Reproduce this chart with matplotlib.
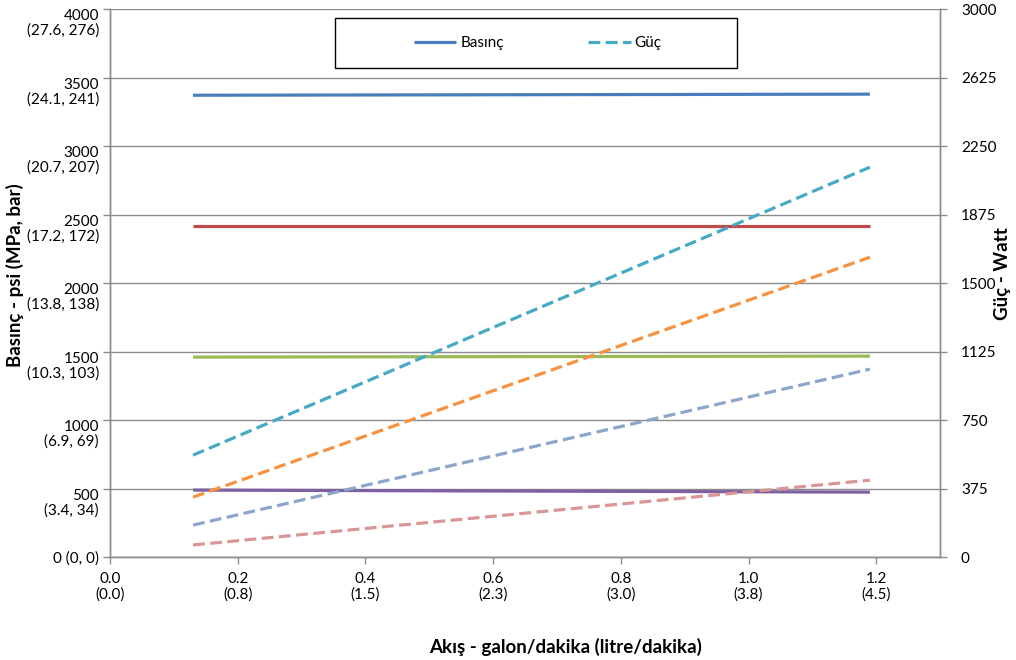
import matplotlib.pyplot as plt
import matplotlib.transforms as mtransforms
from matplotlib.patches import Rectangle

plt.rcParams['font.family'] = ['Lato', 'DejaVu Sans']

# akış (galon/dakika) - çizgilerin başlangıç ve bitiş noktaları
flow = [0.13, 1.19]

# basınç serileri (psi, sol eksen)
p_blue = [3372, 3380]
p_red = [2416, 2416]
p_green = [1460, 1467]
p_purple = [489, 474]

# güç serileri (Watt, sağ eksen)
w_teal = [558, 2135]
w_orange = [328, 1642]
w_lblue = [175, 1029]
w_pink = [66, 421]

x_ticks = [0.0, 0.2, 0.4, 0.6, 0.8, 1.0, 1.2]
x_labels = ['0.0\n(0.0)', '0.2\n(0.8)', '0.4\n(1.5)', '0.6\n(2.3)', '0.8\n(3.0)', '1.0\n(3.8)', '1.2\n(4.5)']
y_ticks = [0, 500, 1000, 1500, 2000, 2500, 3000, 3500, 4000]
y_labels = ['0 (0, 0)', '500\n(3.4, 34)', '1000\n(6.9, 69)', '1500\n(10.3, 103)', '2000\n(13.8, 138)',
            '2500\n(17.2, 172)', '3000\n(20.7, 207)', '3500\n(24.1, 241)', '4000\n(27.6, 276)']
y2_ticks = [0, 375, 750, 1125, 1500, 1875, 2250, 2625, 3000]

grey = '#8c8c8c'
fs = 11

fig = plt.figure(figsize=(10.16, 6.6), dpi=100)
ax = fig.add_axes([0.1083, 0.156, 0.817, 0.830])
ax2 = ax.twinx()

ax.set_xlim(0, 1.3)
ax.set_ylim(0, 4000)
ax2.set_ylim(0, 3000)

ax.set_yticks(y_ticks)
ax.set_yticklabels(y_labels, fontsize=fs, linespacing=1.05)
ax.set_xticks(x_ticks)
ax.set_xticklabels(x_labels, fontsize=fs, linespacing=1.05)
ax2.set_yticks(y2_ticks)
ax2.set_yticklabels([str(v) for v in y2_ticks], fontsize=fs)

# iki satırlı etiketlerde ilk satır tik hizasında olsun
shift = mtransforms.ScaledTranslation(0, 6.5 / 72, fig.dpi_scale_trans)
for lab in ax.get_yticklabels()[1:]:
    lab.set_va('top')
    lab.set_transform(lab.get_transform() + shift)

ax.grid(axis='y', color=grey, lw=1)
ax.set_axisbelow(True)
for a in (ax, ax2):
    a.spines['top'].set_visible(False)
    for s in ('left', 'right', 'bottom'):
        a.spines[s].set_color(grey)
        a.spines[s].set_linewidth(1)
    a.tick_params(color=grey, length=5, width=1)
ax.tick_params(axis='y', pad=3)
ax.tick_params(axis='x', pad=6)
ax2.tick_params(axis='y', pad=10)

lw = 2.3
dash = (3.7, 1.7)
ax.plot(flow, p_blue, color='#4A7EBB', lw=lw, solid_capstyle='butt', label='Basınç')
ax.plot(flow, p_red, color='#BE4B48', lw=lw, solid_capstyle='butt')
ax.plot(flow, p_green, color='#98B954', lw=lw, solid_capstyle='butt')
ax.plot(flow, p_purple, color='#7D60A0', lw=lw, solid_capstyle='butt')

ax2.plot(flow, w_teal, color='#46AAC5', lw=lw, dashes=dash, label='Güç')
ax2.plot(flow, w_orange, color='#F69240', lw=lw, dashes=dash)
ax2.plot(flow, w_lblue, color='#8EA5CB', lw=lw, dashes=dash)
ax2.plot(flow, w_pink, color='#D99694', lw=lw, dashes=dash)

# lejant çerçevesi ayrı çiziliyor, içerik ortada
ax2.add_patch(Rectangle((0.271, 0.892), 0.484, 0.092, transform=ax2.transAxes, facecolor='white',
                        edgecolor='black', lw=1, zorder=4))
h1, l1 = ax.get_legend_handles_labels()
h2, l2 = ax2.get_legend_handles_labels()
leg = ax2.legend(h1 + h2, l1 + l2, ncol=2, loc='center', bbox_to_anchor=(0.515, 0.938),
                 frameon=False, fontsize=fs, handlelength=2.8, handletextpad=0.25,
                 borderaxespad=0, columnspacing=5.5)
leg.set_zorder(5)

fig.text(0.006, 0.583, 'Basınç - psi (MPa, bar)', rotation=90, fontsize=13.5, fontweight='bold',
         ha='left', va='center')
fig.text(0.978, 0.585, 'Güç - Watt', rotation=90, fontsize=13.5, fontweight='bold',
         ha='left', va='center')
fig.text(0.557, 0.02, 'Akış - galon/dakika (litre/dakika)', fontsize=13.5, fontweight='bold',
         ha='center', va='center')

fig.savefig('out.png', dpi=100)
